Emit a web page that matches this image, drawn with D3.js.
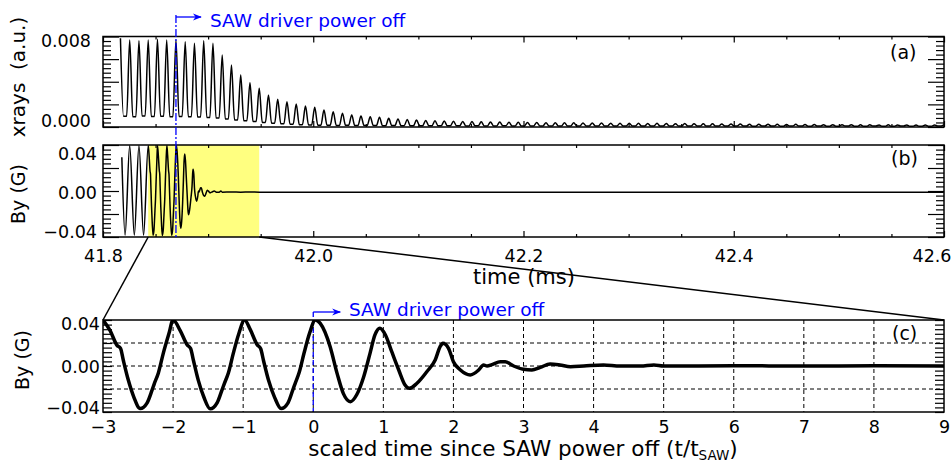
<!DOCTYPE html>
<html>
<head>
<meta charset="utf-8">
<script src="https://cdn.jsdelivr.net/npm/d3@7"></script>
<style>
  body { margin: 0; background: #fff; }
  svg { display: block; }
  text { font-family: "DejaVu Sans", sans-serif; fill: #000; }
</style>
</head>
<body>
<svg id="chart" width="952" height="463"></svg>
<script>
// ---- data ----------------------------------------------------------
// SAW period (ms) and the time the driver is switched off (ms)
const tSAW = 0.0088;
const tOff = 41.8694;

// x-ray spikes: spike n peaks at tOff + n*tSAW; between spikes the signal
// sits on a floor that spans the phases listed in xrayFloorPhase
const xrayFirstIndex = -6;
const xrayFloorPhase = [0.33, 0.67];
const xrayPeaks = [
  0.00822, 0.00805, 0.00799, 0.00805, 0.00812, 0.00805, 0.00805, 0.00789, 0.00773, 0.00799,
  0.00773, 0.00658, 0.00560, 0.00461, 0.00385, 0.00330, 0.00265, 0.00222, 0.00199, 0.00176,
  0.00156, 0.00144, 0.00117, 0.00100, 0.00085, 0.00068, 0.00058, 0.00051, 0.00045, 0.00035,
  0.00029, 0.00023, 0.00019, 0.00015, 0.00011, 0.00009, 0.00007, 0.00005, 0.00003, 0.00001,
  -0.00001, -0.00001, -0.00003, -0.00004, -0.00005, -0.00005, -0.00007, -0.00007, -0.00009, -0.00008,
  -0.00010, -0.00011, -0.00010, -0.00012, -0.00013, -0.00013, -0.00014, -0.00015, -0.00014, -0.00016,
  -0.00017, -0.00016, -0.00018, -0.00019, -0.00018, -0.00020, -0.00021, -0.00021, -0.00022, -0.00023,
  -0.00022, -0.00024, -0.00025, -0.00024, -0.00026, -0.00026, -0.00027, -0.00027, -0.00028, -0.00027,
  -0.00029, -0.00029, -0.00030, -0.00029, -0.00030, -0.00030, -0.00030, -0.00031, -0.00030, -0.00031
];
const xrayTroughs = [
  0.00055, 0.00050, 0.00058, 0.00053, 0.00056, 0.00050, 0.00054, 0.00052, 0.00048, 0.00044,
  0.00038, 0.00029, 0.00019, 0.00011, 0.00003, -0.00005, -0.00012, -0.00018, -0.00023, -0.00027,
  -0.00030, -0.00032,
  -0.00034, -0.00035, -0.00034, -0.00036, -0.00035, -0.00036, -0.00037, -0.00036, -0.00037, -0.00038,
  -0.00037, -0.00038, -0.00038, -0.00037, -0.00038, -0.00039, -0.00038, -0.00039, -0.00039, -0.00038,
  -0.00039, -0.00040, -0.00039, -0.00039, -0.00040, -0.00039, -0.00040, -0.00040, -0.00039, -0.00040,
  -0.00040, -0.00041, -0.00040, -0.00040, -0.00041, -0.00040, -0.00041, -0.00040, -0.00041, -0.00041,
  -0.00040, -0.00041, -0.00041, -0.00040, -0.00041, -0.00041, -0.00042, -0.00041, -0.00041, -0.00042,
  -0.00041, -0.00041, -0.00042, -0.00041, -0.00042, -0.00042, -0.00041, -0.00042, -0.00042, -0.00041,
  -0.00042, -0.00042, -0.00041, -0.00042, -0.00042, -0.00042, -0.00041, -0.00042
];

// By probe signal before the zoom window (scaled time t/tSAW, G)
const leadTime = [-5.85, -5.5, -5.0, -4.5, -4.0, -3.5];
const leadBy   = [0.030, -0.037, 0.040, -0.037, 0.040, -0.037];

// By probe signal inside the zoom window (scaled time t/tSAW, G)
const zoomTime = [
  -3.00, -2.90, -2.80, -2.75, -2.71, -2.64, -2.56, -2.47, -2.37, -2.30, -2.27, -2.21, -2.14, -2.06,
  -2.00, -1.90, -1.80, -1.75, -1.71, -1.64, -1.56, -1.47, -1.37, -1.30, -1.27, -1.21, -1.14, -1.06,
  -0.98, -0.90, -0.80, -0.75, -0.71, -0.64, -0.55, -0.46, -0.36, -0.29, -0.26, -0.20, -0.13, -0.05,
  0.03, 0.10, 0.24, 0.34, 0.43, 0.53, 0.62, 0.72, 0.81, 0.88, 0.95, 1.03, 1.12, 1.22, 1.31, 1.37,
  1.48, 1.62, 1.74, 1.81, 1.85, 1.93, 2.00, 2.10, 2.24, 2.36, 2.43, 2.48, 2.55, 2.67, 2.74, 2.86,
  3.00, 3.12, 3.24, 3.38, 3.52, 3.67, 3.86, 4.14, 4.38, 4.67, 4.86, 5.00, 6.00, 7.00, 8.00, 9.00
];
const zoomBy = [
  0.0400, 0.0310, 0.0180, 0.0154, 0.0050, -0.0120, -0.0270, -0.0370, -0.0320, -0.0210, -0.0157, -0.0060, 0.0110, 0.0280,
  0.0400, 0.0310, 0.0185, 0.0152, 0.0050, -0.0125, -0.0272, -0.0372, -0.0318, -0.0205, -0.0155, -0.0058, 0.0112, 0.0285,
  0.0400, 0.0318, 0.0185, 0.0150, 0.0048, -0.0120, -0.0275, -0.0370, -0.0320, -0.0205, -0.0155, -0.0055, 0.0115, 0.0290,
  0.0400, 0.0370, 0.0170, -0.0064, -0.0240, -0.0310, -0.0250, -0.0093, 0.0110, 0.0270, 0.0328, 0.0270, 0.0124, -0.0035, -0.0165, -0.0194,
  -0.0150, -0.0050, 0.0052, 0.0168, 0.0197, 0.0154, 0.0037, -0.0035, -0.0078, -0.0035, 0.0009, 0.0000, 0.0012, 0.0037, 0.0037, 0.0000,
  -0.0029, -0.0035, -0.0012, 0.0017, 0.0009, -0.0006, 0.0000, 0.0009, 0.0000, 0.0000, 0.0009, 0.0000, 0.0002, 0.0000, 0.0002, 0.0000
];

// By after the zoom window, out to the end of the record
const tailTime = [83.0];
const tailBy   = [0.0];

// axis tick labels
const msTicks = [41.8, 42.0, 42.2, 42.4, 42.6];
const scaledTicks = [-3, -2, -1, 0, 1, 2, 3, 4, 5, 6, 7, 8, 9];
const xrayTicks = [0, 0.008];
const byTicks = [-0.04, 0, 0.04];
const byGrid = [-0.02, 0, 0.02];

// ---- layout --------------------------------------------------------
const svg = d3.select("#chart");
const L = 103, R = 944;
const PA = { top: 36.5, bottom: 127 };
const PB = { top: 145, bottom: 237 };
const PC = { top: 320, bottom: 412 };
const BLUE = "#0000ff";

const xMs = d3.scaleLinear().domain([41.8, 42.6]).range([L, R]);
const xS  = d3.scaleLinear().domain([-3, 9]).range([L, R]);
const yA  = d3.scaleLinear().domain([-0.0005, 0.0084]).range([PA.bottom, PA.top]);
const yB  = d3.scaleLinear().domain([-0.0385, 0.0405]).range([PB.bottom, PB.top]);
const yC  = d3.scaleLinear().domain([-0.04, 0.04]).range([PC.bottom, PC.top]);

const toMs = s => tOff + s * tSAW;

// marker for the blue arrows
const defs = svg.append("defs");
defs.append("marker")
  .attr("id", "arrowhead").attr("viewBox", "0 0 10 10")
  .attr("refX", 9).attr("refY", 5)
  .attr("markerWidth", 9).attr("markerHeight", 9)
  .attr("markerUnits", "userSpaceOnUse")
  .attr("orient", "auto")
  .append("path").attr("d", "M0,1 L10,5 L0,9 L3,5 Z").attr("fill", BLUE);

function clip(id, p) {
  defs.append("clipPath").attr("id", id)
    .append("rect").attr("x", L).attr("y", p.top)
    .attr("width", R - L).attr("height", p.bottom - p.top);
}
clip("clipA", PA); clip("clipB", PB); clip("clipC", PC);

// inward minor/major ticks on both vertical edges
function yEdgeTicks(scale, nDiv, majorEvery, shortLen, longLen) {
  const [d0, d1] = scale.domain();
  const vals = d3.range(nDiv + 1).map(i => d0 + i * (d1 - d0) / nDiv);
  const minor = vals.filter((v, i) => i % majorEvery !== 0);
  const major = vals.filter((v, i) => i % majorEvery === 0);
  [[minor, shortLen], [major, longLen]].forEach(([v, len]) => {
    const gl = svg.append("g").attr("transform", `translate(${L},0)`)
      .call(d3.axisRight(scale).tickValues(v).tickSize(len).tickFormat(""));
    const gr = svg.append("g").attr("transform", `translate(${R},0)`)
      .call(d3.axisLeft(scale).tickValues(v).tickSize(len).tickFormat(""));
    [gl, gr].forEach(g => {
      g.select(".domain").remove();
      g.selectAll("line").attr("stroke", "#000").attr("stroke-width", 1.2);
    });
  });
}

// inward time ticks on the top and bottom edges of a panel
function xEdgeTicks(p) {
  const minor = d3.range(0, 17).map(i => 41.8 + i * 0.05).filter((v, i) => i % 4 !== 0);
  [[minor, 3], [msTicks, 6]].forEach(([v, len]) => {
    const gt = svg.append("g").attr("transform", `translate(0,${p.top})`)
      .call(d3.axisBottom(xMs).tickValues(v).tickSize(len).tickFormat(""));
    const gb = svg.append("g").attr("transform", `translate(0,${p.bottom})`)
      .call(d3.axisTop(xMs).tickValues(v).tickSize(len).tickFormat(""));
    [gt, gb].forEach(g => {
      g.select(".domain").remove();
      g.selectAll("line").attr("stroke", "#000").attr("stroke-width", 1.2);
    });
  });
}

// value labels on the left edge; end labels sit slightly inside the frame
function yLabels(scale, values, fmt, pad, nudge) {
  const g = svg.append("g").attr("transform", `translate(${L},0)`)
    .call(d3.axisLeft(scale).tickValues(values).tickSize(0).tickPadding(pad).tickFormat(fmt));
  g.select(".domain").remove();
  g.selectAll("text")
    .attr("font-family", "DejaVu Sans, sans-serif").attr("font-size", 17.5)
    .attr("transform", d => `translate(0,${nudge(d)})`);
}

function frame(p) {
  svg.append("rect").attr("x", L).attr("y", p.top)
    .attr("width", R - L).attr("height", p.bottom - p.top)
    .attr("fill", "none").attr("stroke", "#000").attr("stroke-width", 1.5);
}

function yTitle(txt, x, y, size) {
  svg.append("text").attr("transform", `translate(${x},${y}) rotate(-90)`)
    .attr("text-anchor", "middle").attr("dy", "0.35em")
    .attr("font-size", size).style("white-space", "pre").text(txt);
}

function panelTag(txt, x, y) {
  svg.append("text").attr("x", x).attr("y", y)
    .attr("font-family", "Liberation Serif, DejaVu Serif, serif")
    .attr("font-size", 19).text(txt);
}

// ---- panel (a): x-ray signal ----------------------------------------
const xrayPts = [];
xrayPeaks.forEach((v, i) => {
  const n = xrayFirstIndex + i;
  xrayPts.push([toMs(n), v]);
  xrayFloorPhase.forEach(ph => xrayPts.push([toMs(n + ph), xrayTroughs[i]]));
});
svg.append("path").datum(xrayPts)
  .attr("clip-path", "url(#clipA)")
  .attr("fill", "none").attr("stroke", "#000").attr("stroke-width", 1.5)
  .attr("stroke-linejoin", "round")
  .attr("d", d3.line().x(d => xMs(d[0])).y(d => yA(d[1])).curve(d3.curveMonotoneX));
frame(PA);
yEdgeTicks(yA, 20, 5, 8, 16);
xEdgeTicks(PA);
yLabels(yA, xrayTicks, d3.format(".3f"), 12, d => d === 0 ? -1.5 : 0);
yTitle("xrays  (a.u.)", 18, 77, 20);
panelTag("(a)", 890, 59);

// ---- panel (b): By versus time --------------------------------------
const winStart = toMs(zoomTime[0]);
const winEnd = toMs(zoomTime[zoomTime.length - 1]);
svg.append("rect")
  .attr("x", xMs(winStart)).attr("y", PB.top)
  .attr("width", xMs(winEnd) - xMs(winStart)).attr("height", PB.bottom - PB.top)
  .attr("fill", "#ffff80");

const allTime = leadTime.concat(zoomTime, tailTime);
const allBy = leadBy.concat(zoomBy, tailBy);
svg.append("path").datum(allTime.map((s, i) => [toMs(s), allBy[i]]))
  .attr("clip-path", "url(#clipB)")
  .attr("fill", "none").attr("stroke", "#000").attr("stroke-width", 1.5)
  .attr("stroke-linejoin", "round")
  .attr("d", d3.line().x(d => xMs(d[0])).y(d => yB(d[1])).curve(d3.curveMonotoneX));
frame(PB);
yEdgeTicks(yB, 20, 5, 8, 16);
xEdgeTicks(PB);
yLabels(yB, byTicks, d3.format(".2f"), 6, d => d > 0 ? 8.4 : (d < 0 ? -7 : 0.5));
yTitle("By (G)", 18, 194, 19);
panelTag("(b)", 891, 165);

const gxb = svg.append("g").attr("transform", `translate(0,${PB.bottom})`)
  .call(d3.axisBottom(xMs).tickValues(msTicks).tickSize(0).tickPadding(12.5).tickFormat(d3.format(".1f")));
gxb.select(".domain").remove();
gxb.selectAll("text").attr("font-family", "DejaVu Sans, sans-serif").attr("font-size", 17.5);
// last label is kept inside the page edge
gxb.selectAll("text").filter(d => d === msTicks[msTicks.length - 1])
  .attr("text-anchor", "end").attr("dx", 7);

svg.append("text").attr("x", 524).attr("y", 284)
  .attr("text-anchor", "middle").attr("font-size", 21).text("time (ms)");

// lines linking the highlighted window to the zoomed panel
svg.append("line").attr("x1", xMs(winStart)).attr("y1", PB.bottom)
  .attr("x2", xS(zoomTime[0])).attr("y2", PC.top)
  .attr("stroke", "#000").attr("stroke-width", 1.5);
svg.append("line").attr("x1", xMs(winEnd)).attr("y1", PB.bottom)
  .attr("x2", xS(zoomTime[zoomTime.length - 1])).attr("y2", PC.top)
  .attr("stroke", "#000").attr("stroke-width", 1.5);

// driver turn-off marker across panels (a) and (b)
svg.append("line").attr("x1", xMs(tOff)).attr("x2", xMs(tOff))
  .attr("y1", 15).attr("y2", PB.bottom)
  .attr("stroke", BLUE).attr("stroke-width", 1.3).attr("stroke-dasharray", "8,2,2,2");
svg.append("line").attr("x1", xMs(tOff)).attr("x2", xMs(tOff) + 25)
  .attr("y1", 17).attr("y2", 17)
  .attr("stroke", BLUE).attr("stroke-width", 1.3).attr("marker-end", "url(#arrowhead)");
svg.append("text").attr("x", 210).attr("y", 27)
  .attr("font-size", 18.5).style("fill", BLUE).text("SAW driver power off");

// ---- panel (c): By versus scaled time -------------------------------
const gc = svg.append("g");
gc.selectAll("line.vgrid").data(scaledTicks.slice(1, -1)).join("line")
  .attr("x1", d => xS(d)).attr("x2", d => xS(d))
  .attr("y1", PC.top).attr("y2", PC.bottom)
  .attr("stroke", "#000").attr("stroke-width", 1).attr("stroke-dasharray", "4,3");
gc.selectAll("line.hgrid").data(byGrid).join("line")
  .attr("x1", L).attr("x2", R)
  .attr("y1", d => yC(d)).attr("y2", d => yC(d))
  .attr("stroke", "#000").attr("stroke-width", 1).attr("stroke-dasharray", "4,3");

svg.append("line").attr("x1", xS(0)).attr("x2", xS(0))
  .attr("y1", 312).attr("y2", PC.bottom)
  .attr("stroke", BLUE).attr("stroke-width", 1.3).attr("stroke-dasharray", "5,3");
svg.append("line").attr("x1", xS(0)).attr("x2", xS(0) + 27)
  .attr("y1", 312).attr("y2", 312)
  .attr("stroke", BLUE).attr("stroke-width", 1.3).attr("marker-end", "url(#arrowhead)");
svg.append("text").attr("x", 349).attr("y", 316)
  .attr("font-size", 18.5).style("fill", BLUE).text("SAW driver power off");

svg.append("path").datum(zoomTime.map((s, i) => [s, zoomBy[i]]))
  .attr("clip-path", "url(#clipC)")
  .attr("fill", "none").attr("stroke", "#000").attr("stroke-width", 3.5)
  .attr("stroke-linejoin", "round").attr("stroke-linecap", "round")
  .attr("d", d3.line().x(d => xS(d[0])).y(d => yC(d[1])).curve(d3.curveMonotoneX));
frame(PC);
yEdgeTicks(yC, 20, 5, 9, 9);
yLabels(yC, byTicks, d3.format(".2f"), 3, d => d > 0 ? 3.5 : (d < 0 ? -4 : 1));
yTitle("By (G)", 22, 360, 19);
panelTag("(c)", 892, 340);

const gxc = svg.append("g").attr("transform", `translate(0,${PC.bottom})`)
  .call(d3.axisBottom(xS).tickValues(scaledTicks).tickSize(0).tickPadding(9).tickFormat(d3.format("d")));
gxc.select(".domain").remove();
gxc.selectAll("text").attr("font-family", "DejaVu Sans, sans-serif").attr("font-size", 17.5);

const xt = svg.append("text").attr("x", 523).attr("y", 456)
  .attr("text-anchor", "middle").attr("font-size", 21.5);
xt.append("tspan").text("scaled time since SAW power off (t/t");
xt.append("tspan").attr("font-size", 13.5).attr("dy", 4).text("SAW");
xt.append("tspan").attr("dy", -4).text(")");
</script>
</body>
</html>
